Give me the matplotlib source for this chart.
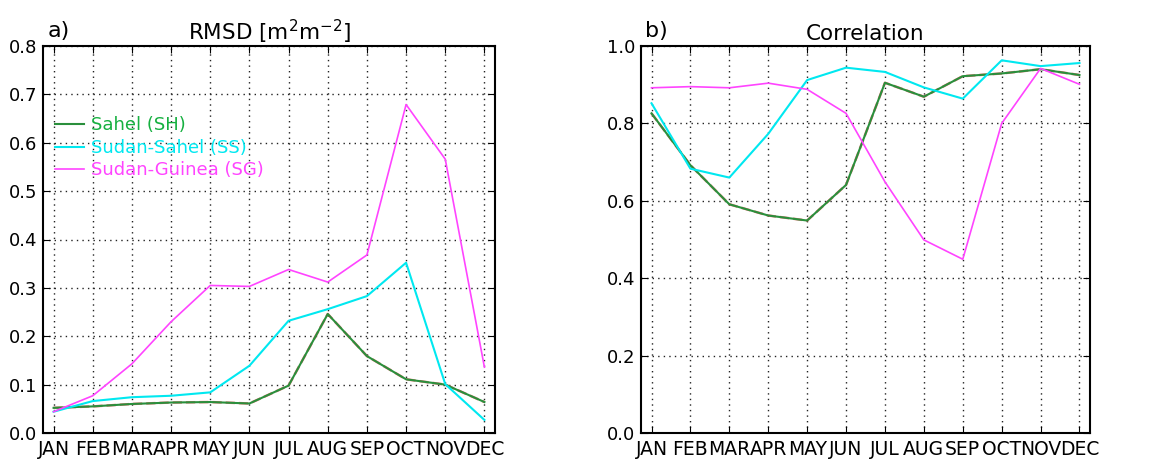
import matplotlib
matplotlib.use("Agg")
import matplotlib.pyplot as plt
import numpy as np

months = ["JAN", "FEB", "MAR", "APR", "MAY", "JUN", "JUL", "AUG", "SEP", "OCT", "NOV", "DEC"]
labels = ["Sahel (SH)", "Sudan-Sahel (SS)", "Sudan-Guinea (SG)"]

rmsd_sh = [0.052, 0.055, 0.060, 0.063, 0.064, 0.061, 0.098, 0.246, 0.159, 0.111, 0.100, 0.064]
rmsd_ss = [0.044, 0.066, 0.074, 0.077, 0.084, 0.139, 0.232, 0.256, 0.283, 0.352, 0.101, 0.027]
rmsd_sg = [0.044, 0.077, 0.143, 0.230, 0.305, 0.303, 0.338, 0.312, 0.368, 0.679, 0.566, 0.136]

corr_sh = [0.826, 0.692, 0.591, 0.562, 0.549, 0.641, 0.905, 0.869, 0.922, 0.929, 0.940, 0.925]
corr_ss = [0.852, 0.683, 0.660, 0.773, 0.912, 0.944, 0.933, 0.893, 0.864, 0.963, 0.948, 0.956]
corr_sg = [0.892, 0.895, 0.892, 0.904, 0.888, 0.826, 0.649, 0.499, 0.449, 0.800, 0.942, 0.901]

c_sh = "#2a8f3c"
c_sh_txt = "#16b040"
c_ss = "#00e8f0"
c_sg = "#ff44ff"
c_under = "#e05050"

fig = plt.figure(figsize=(11.62, 4.59), dpi=100)
ax1 = fig.add_axes([43/1162, 26/459, 452/1162, 387/459])
ax2 = fig.add_axes([641/1162, 26/459, 449/1162, 387/459])

x = np.arange(len(months))

def style(ax, ylim, yticks):
    ax.set_xlim(-0.27, 11.27)
    ax.set_ylim(*ylim)
    ax.set_yticks(yticks)
    ax.set_xticks(x)
    ax.set_xticklabels(months)
    ax.tick_params(axis="x", labelsize=13.5, direction="in", top=True, length=5, pad=5)
    ax.tick_params(axis="y", labelsize=13, direction="in", right=True, length=5, pad=4)
    ax.grid(True, linestyle=(0, (1, 3)), color="#222222", linewidth=1.0)
    for s in ax.spines.values():
        s.set_linewidth(1.5)

# Panel a
ax1.plot(x, rmsd_sh, color=c_under, lw=1.8, ls="--", alpha=0.8, zorder=2)
ax1.plot(x, rmsd_sh, color=c_sh, lw=1.5, label=labels[0], zorder=3)
ax1.plot(x, rmsd_ss, color=c_ss, lw=1.5, label=labels[1], zorder=3)
ax1.plot(x, rmsd_sg, color=c_sg, lw=1.2, label=labels[2], zorder=3)
style(ax1, (0, 0.8), [0.0, 0.1, 0.2, 0.3, 0.4, 0.5, 0.6, 0.7, 0.8])
ax1.set_yticklabels(["0.0", "0.1", "0.2", "0.3", "0.4", "0.5", "0.6", "0.7", "0.8"])
ax1.set_title(r"RMSD [m$^2$m$^{-2}$]", fontsize=15.5, pad=4)
ax1.text(0.01, 1.012, "a)", transform=ax1.transAxes, fontsize=16, ha="left", va="bottom")
leg = ax1.legend(loc="upper left", bbox_to_anchor=(-0.01, 0.86), frameon=False,
                 fontsize=13, handlelength=1.6, handletextpad=0.4, labelspacing=0.25,
                 labelcolor=[c_sh_txt, c_ss, c_sg])

# Panel b
ax2.plot(x, corr_sh, color=c_under, lw=1.8, ls="--", alpha=0.8, zorder=2)
ax2.plot(x, corr_sh, color=c_sh, lw=1.5, zorder=3)
ax2.plot(x, corr_ss, color=c_ss, lw=1.5, zorder=3)
ax2.plot(x, corr_sg, color=c_sg, lw=1.2, zorder=3)
style(ax2, (0, 1.0), [0.0, 0.2, 0.4, 0.6, 0.8, 1.0])
ax2.set_yticklabels(["0.0", "0.2", "0.4", "0.6", "0.8", "1.0"])
ax2.set_title("Correlation", fontsize=15.5, pad=4)
ax2.text(0.01, 1.012, "b)", transform=ax2.transAxes, fontsize=16, ha="left", va="bottom")

fig.savefig("out.png", dpi=100)
